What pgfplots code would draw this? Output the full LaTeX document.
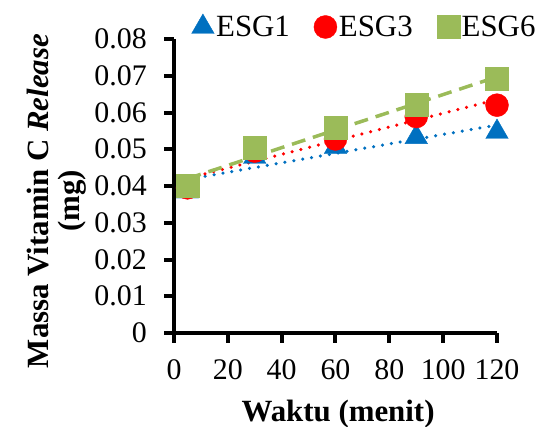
\documentclass[border=0pt]{standalone}
\usepackage{pgfplots}
\pgfplotsset{compat=1.18}
\usepackage{fontspec}
\setmainfont{Liberation Serif}
\definecolor{cblue}{HTML}{0070C0}
\definecolor{cred}{HTML}{FF0000}
\definecolor{cgreen}{HTML}{9BBB59}
\begin{document}
\begin{tikzpicture}
\begin{axis}[
  scale only axis, width=323bp, height=294bp,
  xmin=0, xmax=120, ymin=0, ymax=0.08,
  axis lines=left,
  axis line style={line width=4bp, black, -},
  scaled y ticks=false, scaled x ticks=false,
  xtick={0,20,40,60,80,100,120},
  xticklabels={0,20,40,60,80,100,120},
  ytick={0,0.01,0.02,0.03,0.04,0.05,0.06,0.07,0.08},
  yticklabels={0,0.01,0.02,0.03,0.04,0.05,0.06,0.07,0.08},
  major tick length=0pt,
  tick style={draw=none},
  tick label style={font=\fontsize{30}{34}\selectfont},
  xticklabel style={inner ysep=26bp},
  yticklabel style={inner xsep=27bp},
  xlabel={\textbf{Waktu (menit)}},
  ylabel={\textbf{Massa Vitamin C \textit{Release}}\\\textbf{(mg)}},
  label style={font=\fontsize{31}{31}\selectfont},
  xlabel style={at={(axis description cs:0.508,-0.276)}, anchor=center},
  ylabel style={at={(axis description cs:-0.362,0.449)}, anchor=center, align=center, rotate=0},
  legend columns=3,
  legend style={draw=none, fill=none, at={(axis description cs:0.59,1.041)}, anchor=center,
    font=\fontsize{31}{34}\selectfont, /tikz/every even column/.append style={column sep=22bp}},
  legend image code/.code={\draw[#1] plot coordinates {(0bp,0bp)};},
  clip=false,
]
\addplot[only marks, mark=triangle*, mark size=13bp, color=cblue] coordinates {(5,0.0385) (30,0.0479) (60,0.0506) (90,0.0533) (120,0.0547)};
\addlegendentry{ESG1}
\addplot[only marks, mark=*, mark size=11.5bp, color=cred] coordinates {(5,0.0395) (30,0.0495) (60,0.0528) (90,0.0589) (120,0.0620)};
\addlegendentry{ESG3}
\addplot[only marks, mark=square*, mark size=11.5bp, color=cgreen] coordinates {(5,0.0402) (30,0.0503) (60,0.0558) (90,0.0622) (120,0.0691)};
\addlegendentry{ESG6}
\addplot[forget plot, no marks, color=cblue, line width=3.5bp, line cap=round, dash pattern=on 0bp off 9bp] coordinates {(5,0.0418) (120,0.0566)};
\addplot[forget plot, no marks, color=cred, line width=3.5bp, line cap=round, dash pattern=on 0bp off 9bp] coordinates {(5,0.0421) (120,0.0635)};
\addplot[forget plot, no marks, color=cgreen, line width=3.5bp, dash pattern=on 14bp off 8bp] coordinates {(5,0.0420) (120,0.0697)};
\pgfplotsinvokeforeach{0,20,40,60,80,100,120}{
  \draw[line width=4bp, black] (axis cs:#1,0) -- ([yshift=-10bp]axis cs:#1,0);
}
\pgfplotsinvokeforeach{0,0.01,0.02,0.03,0.04,0.05,0.06,0.07,0.08}{
  \draw[line width=4bp, black] (axis cs:0,#1) -- ([xshift=-10bp]axis cs:0,#1);
}
\end{axis}
\pgfresetboundingbox
\useasboundingbox (-174bp,-94bp) rectangle (368bp,333bp);
\end{tikzpicture}
\end{document}
